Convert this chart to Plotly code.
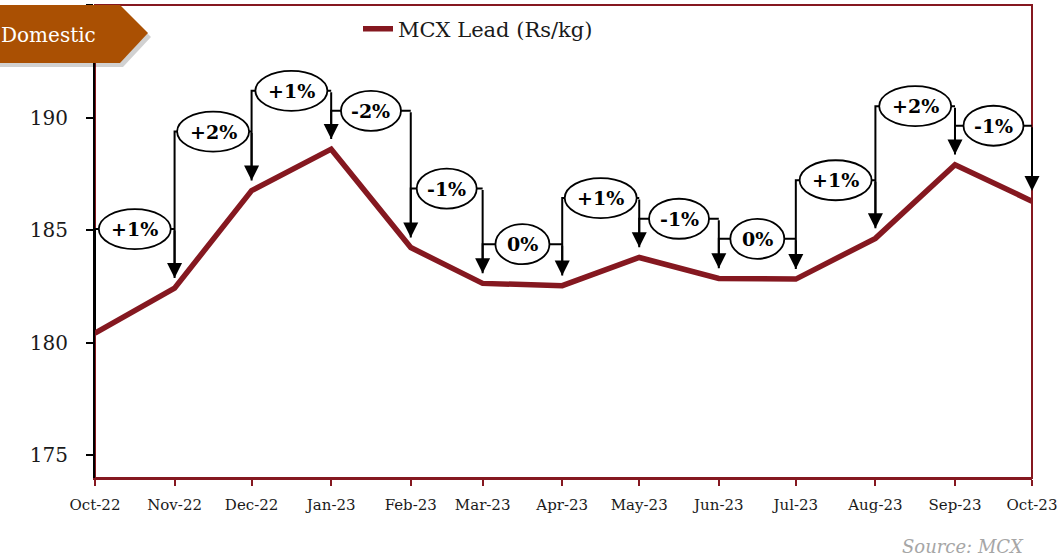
import pandas as pd
import plotly.graph_objects as go

# ---------------- data ----------------
months = ["2022-10-01", "2022-11-01", "2022-12-01", "2023-01-01", "2023-02-01",
          "2023-03-01", "2023-04-01", "2023-05-01", "2023-06-01", "2023-07-01",
          "2023-08-01", "2023-09-01", "2023-10-01"]
lead_price = [180.43, 182.43, 186.76, 188.60, 184.23, 182.64, 182.54,
              183.79, 182.86, 182.83, 184.64, 187.91, 186.29]
change_labels = ["+1%", "+2%", "+1%", "-2%", "-1%", "0%", "+1%",
                 "-1%", "0%", "+1%", "+2%", "-1%"]
label_levels = [185.05, 189.38, 191.19, 190.30, 186.85, 184.38, 186.43,
                185.51, 184.62, 187.22, 190.51, 189.64]
y_ticks = [175, 180, 185, 190, 195]
series_name = "MCX Lead (Rs/kg)"
badge_text = "Domestic"
source_text = "Source: MCX"

# ---------------- styling ----------------
FONT = "DejaVu Serif"
RED = "#851820"
BADGE = "#AA5003"
W, H = 1062, 560
ML, MR, MT, MB = 95, 30, 5, 82
PW, PH = W - ML - MR, H - MT - MB
TIP = 0.45  # arrow end offset above the point (data units)

def px_to_paper(px, py):
    return (px - ML) / PW, (H - MB - py) / PH

dates = pd.to_datetime(months)
mids = [dates[i] + (dates[i + 1] - dates[i]) / 2 for i in range(len(dates) - 1)]

fig = go.Figure()

# bracket connector lines (left vertical + horizontal)
bx, by = [], []
for i in range(len(change_labels)):
    start = lead_price[i] if i == 0 else lead_price[i] + TIP
    bx += [dates[i], dates[i], dates[i + 1], None]
    by += [start, label_levels[i], label_levels[i], None]
fig.add_trace(go.Scatter(x=bx, y=by, mode="lines", line=dict(color="black", width=2),
                         showlegend=False, hoverinfo="skip"))

# main series
fig.add_trace(go.Scatter(x=dates, y=lead_price, mode="lines", name=series_name,
                         line=dict(color=RED, width=5.5)))

shapes = []
annotations = []
# plot frame (dark red), left axis drawn in black on top
shapes.append(dict(type="rect", xref="paper", yref="paper", x0=0, x1=1, y0=0, y1=1,
                   line=dict(color=RED, width=2), layer="below"))

width_map = {"+": 72, "-": 60, "0": 54}
for i, lab in enumerate(change_labels):
    w = width_map[lab[0]]
    shapes.append(dict(type="circle", xref="x", yref="y", xsizemode="pixel", ysizemode="pixel",
                       xanchor=mids[i], yanchor=label_levels[i],
                       x0=-w / 2, x1=w / 2, y0=-20, y1=20,
                       fillcolor="white", line=dict(color="black", width=1.8), layer="above"))
    annotations.append(dict(x=mids[i], y=label_levels[i], xref="x", yref="y", text=lab,
                            showarrow=False, font=dict(family=FONT, size=19, color="black", weight="bold")))
    annotations.append(dict(x=dates[i + 1], y=lead_price[i + 1] + TIP, xref="x", yref="y",
                            ax=dates[i + 1], ay=label_levels[i], axref="x", ayref="y",
                            text="", showarrow=True, arrowhead=2, arrowsize=1.5,
                            arrowwidth=2, arrowcolor="black", standoff=0))

# "Domestic" badge
def badge_path(dx=0, dy=0):
    pts = [(-10 + dx, 5 + dy), (120 + dx, 5 + dy), (148 + dx, 33 + dy),
           (120 + dx, 63 + dy), (-10 + dx, 63 + dy)]
    p = [px_to_paper(x, y) for x, y in pts]
    return "M " + " L ".join(f"{a:.5f},{b:.5f}" for a, b in p) + " Z"

shapes.append(dict(type="path", xref="paper", yref="paper", path=badge_path(3, 4),
                   fillcolor="rgba(0,0,0,0.18)", line=dict(width=0), layer="above"))
shapes.append(dict(type="path", xref="paper", yref="paper", path=badge_path(),
                   fillcolor=BADGE, line=dict(width=0), layer="above"))
bx0, by0 = px_to_paper(-1, 35)
annotations.append(dict(x=bx0, y=by0, xref="paper", yref="paper", text=badge_text,
                        showarrow=False, xanchor="left", yanchor="middle",
                        font=dict(family=FONT, size=20, color="white")))

sx, sy = px_to_paper(1026, 546)
annotations.append(dict(x=sx, y=sy, xref="paper", yref="paper", text=source_text,
                        showarrow=False, xanchor="right", yanchor="middle",
                        font=dict(family=FONT, size=18, color="#A6A6A6", style="italic")))

lx, ly = px_to_paper(358, 29)
fig.update_layout(
    width=W, height=H,
    margin=dict(l=ML, r=MR, t=MT, b=MB),
    plot_bgcolor="white", paper_bgcolor="white",
    font=dict(family=FONT, color="#1a1a1a"),
    shapes=shapes, annotations=annotations,
    showlegend=True,
    legend=dict(x=lx, y=ly, xanchor="left", yanchor="middle", orientation="h",
                font=dict(family=FONT, size=21, color="#1a1a1a"), bgcolor="rgba(0,0,0,0)"),
    xaxis=dict(type="date", range=[dates[0], dates[-1]], tickvals=dates, tickformat="%b-%y",
               showgrid=False, zeroline=False, showline=True, linecolor=RED, linewidth=2,
               ticks="outside", ticklen=6, tickwidth=2, tickcolor=RED,
               tickfont=dict(family=FONT, size=15, color="#1a1a1a"), ticklabelstandoff=6),
    yaxis=dict(range=[174, 195], tickvals=y_ticks, showgrid=False, zeroline=False,
               showline=True, linecolor="black", linewidth=2,
               ticks="outside", ticklen=7, tickwidth=2, tickcolor="black",
               tickfont=dict(family=FONT, size=20, color="#1a1a1a"), ticklabelstandoff=14),
)

fig.write_html("out.html", config={"displayModeBar": False},
               post_script="document.body.style.margin='0';")
